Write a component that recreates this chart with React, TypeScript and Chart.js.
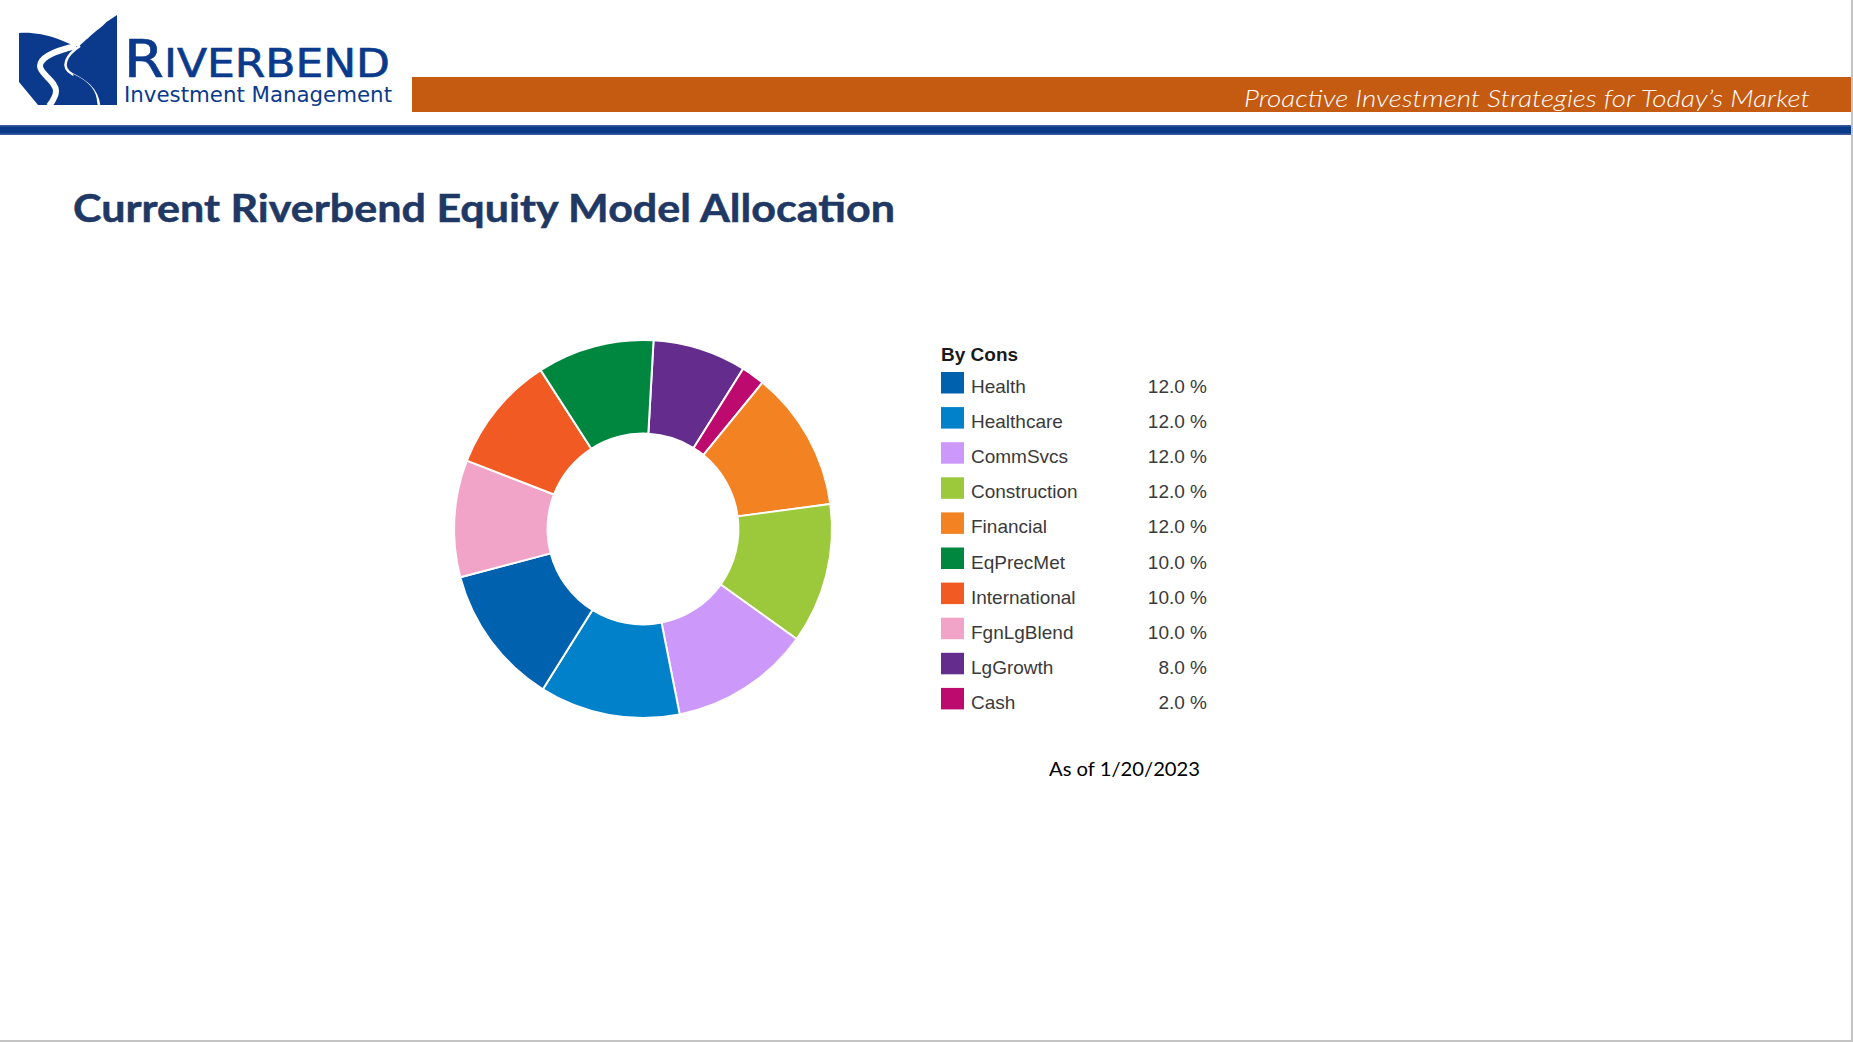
import React, { useEffect, useRef } from 'react';
import { Chart, registerables } from 'chart.js';

Chart.register(...registerables);

// ---- data ----
const categories = ['Health', 'Healthcare', 'CommSvcs', 'Construction', 'Financial', 'EqPrecMet', 'International', 'FgnLgBlend', 'LgGrowth', 'Cash'];
const values = [12.0, 12.0, 12.0, 12.0, 12.0, 10.0, 10.0, 10.0, 8.0, 2.0];
const colors = ['#0061AE', '#0081C9', '#CC99FB', '#9BC93B', '#F28222', '#00873F', '#F15A22', '#F2A4C8', '#632C8D', '#BC0A6E'];
// clockwise order of the slices in the ring, starting just right of 12 o'clock
const sliceOrder = ['LgGrowth', 'Cash', 'Financial', 'Construction', 'CommSvcs', 'Healthcare', 'Health', 'FgnLgBlend', 'International', 'EqPrecMet'];
const legendTitle = 'By Cons';
const titleText = 'Current Riverbend Equity Model Allocation';
const asOfText = 'As of 1/20/2023';
const tagline = 'Proactive Investment Strategies for Today\u2019s Market';

const LOGO_BLUE = '#0B3A8C';
const LOGO_FONT = "'DejaVu Sans Condensed', 'DejaVu Sans', sans-serif";

function Logo() {
  return (
    <g>
      <path
        d="M19,33 C30,32 45,34 58,39 C66,42 72,45 78,47 C84,42 92,34 100,28 C104,25 106,22 108,21 C111,19 114,17 117,15 L117,105 L38,105 L19,82 Z"
        fill={LOGO_BLUE}
      />
      <path d="M76,46 C58,50 40,57 40,66 C40,74 56,81 56,91 C56,97 52,102 49,106" stroke="#fff" strokeWidth={6} fill="none" />
      <path d="M80,46 C66,55 60,67 72,74 C84,80 97,88 99,105" stroke="#fff" strokeWidth={2.5} fill="none" />
      <path d="M73,74 C84,79 95,86 97,100 C88,98 76,90 73,74 Z" fill={LOGO_BLUE} />
      <text x={124} y={77} fontFamily={LOGO_FONT} fill={LOGO_BLUE} stroke={LOGO_BLUE} strokeWidth={0.6} textLength={266} lengthAdjust="spacingAndGlyphs">
        <tspan fontSize={51}>R</tspan>
        <tspan fontSize={39}>IVERBEND</tspan>
      </text>
      <text x={124} y={102} fontFamily={LOGO_FONT} fontSize={22} fill={LOGO_BLUE} textLength={268} lengthAdjust="spacingAndGlyphs">Investment Management</text>
    </g>
  );
}

export default function App() {
  const canvasRef = useRef<HTMLCanvasElement | null>(null);

  useEffect(() => {
    document.body.style.margin = '0';
    const idx = sliceOrder.map((n) => categories.indexOf(n));
    const chart = new Chart(canvasRef.current as HTMLCanvasElement, {
      type: 'doughnut',
      data: {
        labels: idx.map((i) => categories[i]),
        datasets: [
          {
            data: idx.map((i) => values[i]),
            backgroundColor: idx.map((i) => colors[i]),
            borderColor: '#ffffff',
            borderWidth: 2,
            hoverOffset: 0,
          },
        ],
      },
      options: {
        responsive: false,
        animation: false,
        events: [],
        rotation: 3.2,
        radius: 189,
        cutout: '50.5%',
        layout: { padding: 0 },
        plugins: { legend: { display: false }, tooltip: { enabled: false } },
      } as any,
    });
    return () => chart.destroy();
  }, []);

  const rowTop = 372;
  const rowStep = 35.1;

  return (
    <div style={{ position: 'absolute', left: 0, top: 0, width: 1853, height: 1042, background: '#ffffff', overflow: 'hidden' }}>
      <svg width={1853} height={1042} style={{ position: 'absolute', left: 0, top: 0 }}>
        <Logo />
        {/* orange banner */}
        <rect x={412} y={77} width={1439} height={35} fill="#C55A11" />
        <text
          x={1244}
          y={107}
          fontFamily="Lato, 'Open Sans', sans-serif"
          fontStyle="italic"
          fontWeight={300}
          fontSize={23}
          fill="#ffffff"
          textLength={566}
          lengthAdjust="spacingAndGlyphs"
        >
          {tagline}
        </text>
        {/* blue rule */}
        <rect x={0} y={125} width={1851} height={10} fill="#3A5E9E" />
        <rect x={0} y={126.5} width={1851} height={7} fill="#0A3A88" />
        {/* title */}
        <text
          x={73}
          y={222}
          fontFamily="Lato, 'Open Sans', sans-serif"
          fontWeight={700}
          fontSize={39}
          fill="#203864"
          stroke="#203864"
          strokeWidth={0.5}
          textLength={822}
          lengthAdjust="spacingAndGlyphs"
        >
          {titleText}
        </text>
        {/* legend */}
        <text x={941} y={361} fontFamily="'Liberation Sans', Arial, sans-serif" fontWeight={700} fontSize={19} fill="#1a1a1a">
          {legendTitle}
        </text>
        {categories.map((c, i) => (
          <g key={c}>
            <rect x={941} y={rowTop + i * rowStep} width={23} height={21.5} fill={colors[i]} />
            <text x={971} y={rowTop + i * rowStep + 21} fontFamily="'Liberation Sans', Arial, sans-serif" fontSize={19} fill="#3a3a3a">
              {c}
            </text>
            <text x={1207} y={rowTop + i * rowStep + 21} textAnchor="end" fontFamily="'Liberation Sans', Arial, sans-serif" fontSize={19} fill="#3a3a3a">
              {values[i].toFixed(1) + ' %'}
            </text>
          </g>
        ))}
        {/* as-of note */}
        <text x={1049} y={776} fontFamily="Lato, 'Open Sans', sans-serif" fontSize={20} fill="#000000" textLength={151} lengthAdjust="spacingAndGlyphs">
          {asOfText}
        </text>
        {/* slide border */}
        <rect x={1851} y={0} width={2} height={1042} fill="#C4C4C4" />
        <rect x={0} y={1040} width={1853} height={2} fill="#C4C4C4" />
      </svg>
      <canvas ref={canvasRef} width={440} height={440} style={{ position: 'absolute', left: 423, top: 309, width: 440, height: 440 }} />
    </div>
  );
}
